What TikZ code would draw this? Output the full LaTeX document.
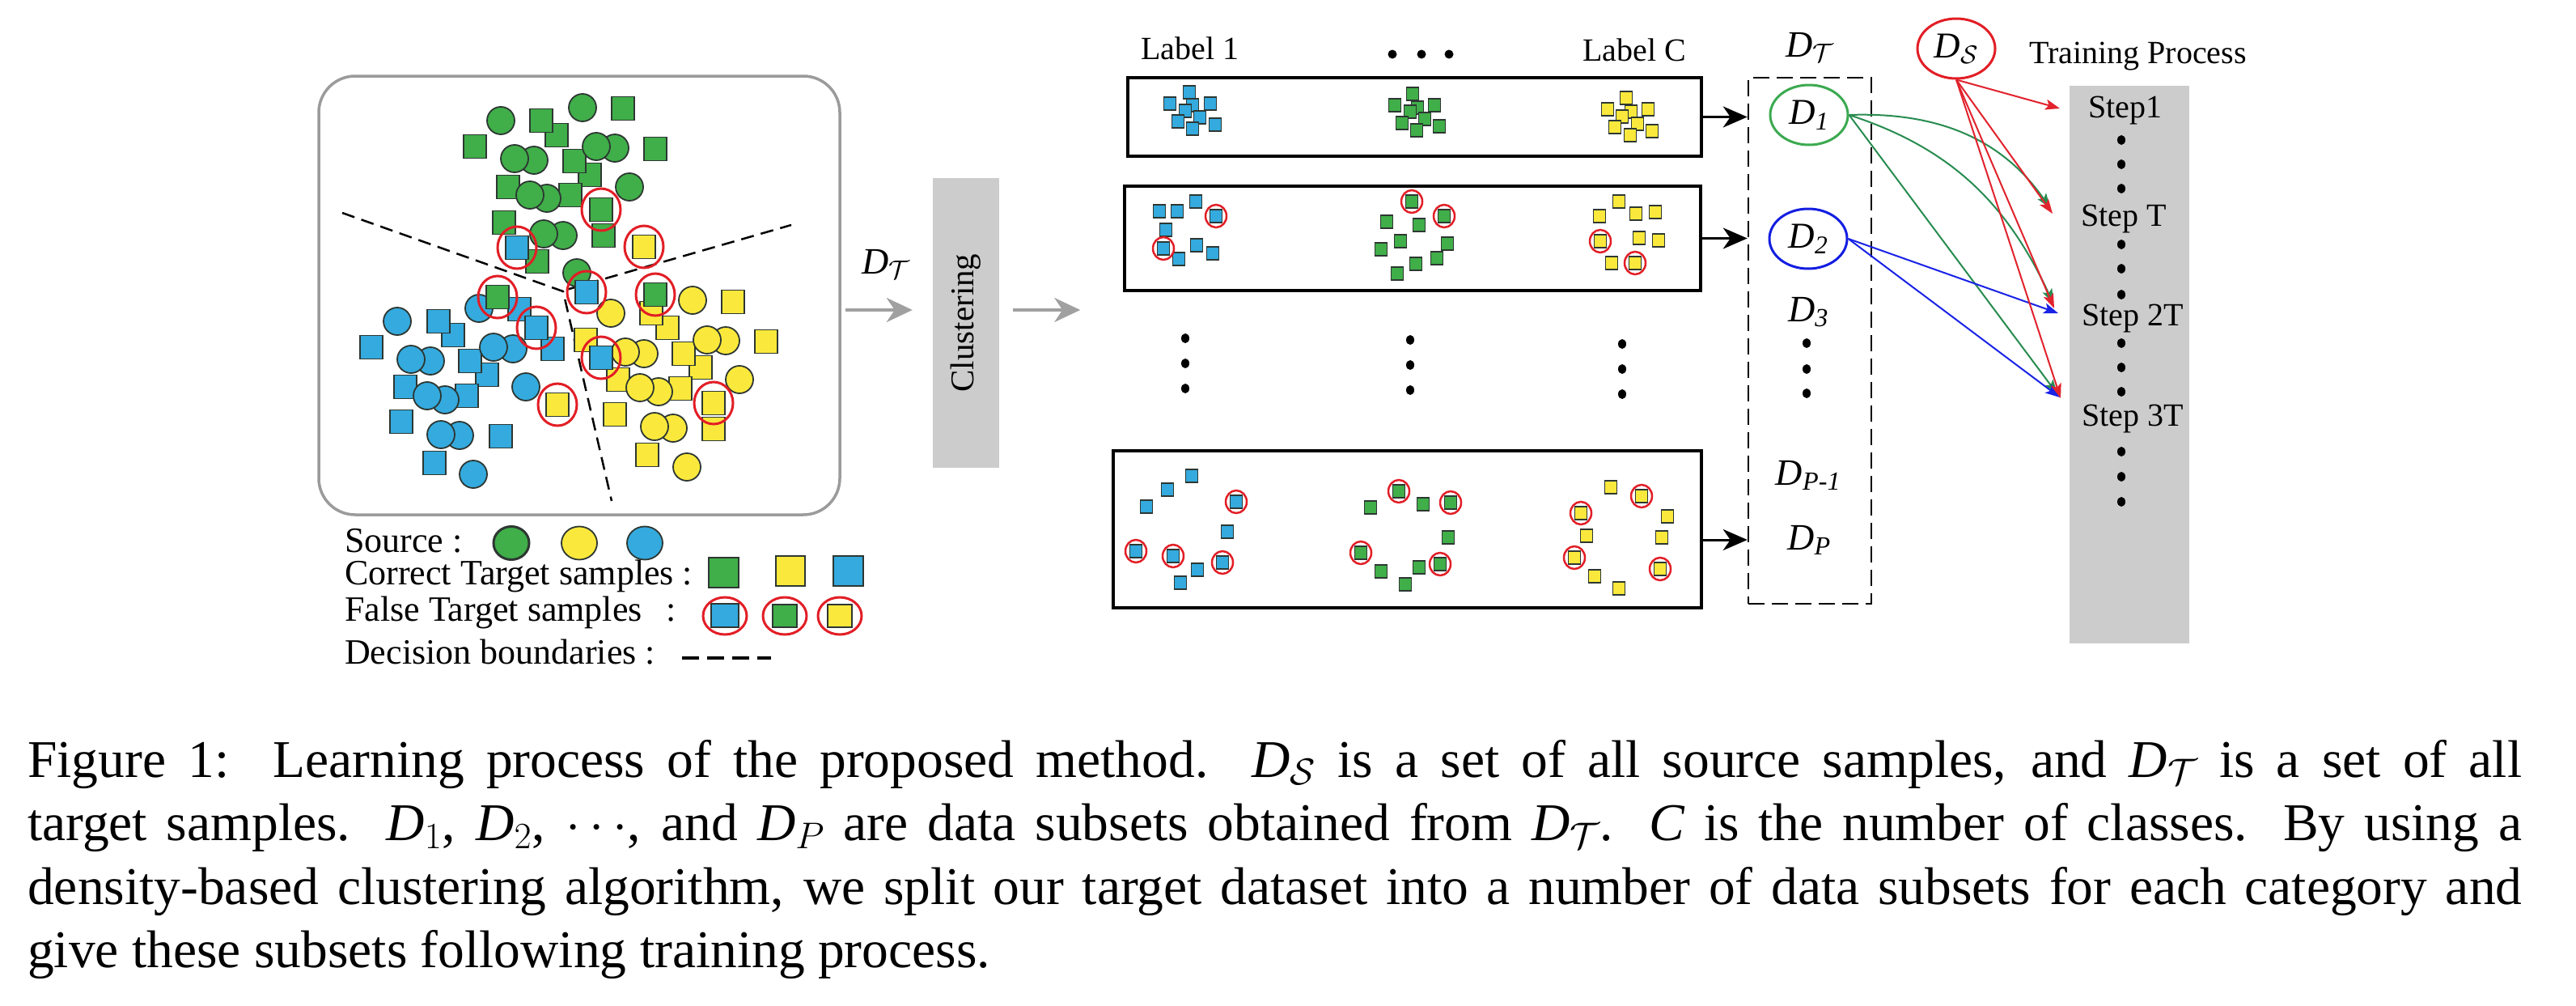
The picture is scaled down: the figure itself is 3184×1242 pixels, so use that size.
\RequirePackage{fix-cm}
\documentclass[tikz,border=0pt]{standalone}
\usepackage{fontspec}
\setmainfont{Liberation Serif}
\usetikzlibrary{arrows.meta,shapes.geometric,calc}
\definecolor{gfill}{RGB}{64,174,73}
\definecolor{yfill}{RGB}{250,233,60}
\definecolor{bfill}{RGB}{52,170,222}
\definecolor{edgec}{RGB}{45,55,50}
\definecolor{redc}{RGB}{226,30,38}
\definecolor{boxgray}{RGB}{204,204,204}
\definecolor{arrgray}{RGB}{160,160,160}
\definecolor{rimgray}{RGB}{155,155,155}
\definecolor{dgreen}{RGB}{60,170,80}
\definecolor{dblue}{RGB}{20,30,225}
\definecolor{lgreen}{RGB}{40,140,80}
\definecolor{lblue}{RGB}{25,35,230}
\definecolor{lred}{RGB}{225,35,45}
\tikzset{
  shapeedge/.style={draw=edgec,line width=1.8pt},
  smalledge/.style={draw=edgec,line width=1.3pt},
  redring/.style={draw=redc,line width=3pt},
  smallring/.style={draw=redc,line width=2.5pt},
  bdash/.style={line width=2.5pt,dash pattern=on 16pt off 9pt},
  lbl/.style={font=\fontsize{40}{48}\selectfont,inner sep=0pt},
  leg/.style={font=\fontsize{44}{52}\selectfont,inner sep=0pt,anchor=base west},
  dlab/.style={font=\fontsize{46}{54}\selectfont,inner sep=0pt},
  dnode/.style={ellipse,line width=3pt,minimum width=96pt,minimum height=74pt,inner sep=0pt,font=\fontsize{45}{54}\selectfont},
  tipc/.style={-{Stealth[length=18pt,width=13pt,inset=4pt]},line width=2pt},
  blackarr/.style={-{Stealth[length=30pt,width=26pt,inset=9pt]},line width=3pt},
  grayarr/.style={draw=arrgray,-{Stealth[length=32pt,width=30pt,inset=10pt]},line width=3.5pt},
  framebox/.style={draw,line width=3.5pt,inner sep=0pt},
}
\newcommand{\Bsq}[3]{\draw[shapeedge,fill=#1] (#2-14,#3-14.5) rectangle ++(28,29);}
\newcommand{\Bci}[3]{\draw[shapeedge,fill=#1] (#2,#3) ellipse [x radius=17pt,y radius=17pt];}
\newcommand{\Bfa}[3]{\Bsq{#1}{#2}{#3}\draw[redring] (#2,#3) ellipse [x radius=24pt,y radius=26pt];}
\newcommand{\Ssq}[3]{\draw[smalledge,fill=#1] (#2-7.5,#3-8) rectangle ++(15,16);}
\newcommand{\Sfa}[3]{\Ssq{#1}{#2}{#3}\draw[smallring] (#2,#3) ellipse [x radius=13pt,y radius=14pt];}
\newcommand{\bdot}[2]{\fill (#1,#2) ellipse [x radius=5pt,y radius=6pt];}
\newcommand{\Dsub}[1]{\textit{D}\textsubscript{\textit{#1}}}
\begin{document}
\begin{tikzpicture}[x=1pt,y=-1pt]
\fill[white] (0,0) rectangle (3184,1242);
\useasboundingbox (0,0) rectangle (3184,1242);

% ---------- left scatter box ----------
\node[draw=rimgray,line width=3.5pt,rounded corners=45pt,minimum width=644pt,minimum height=542pt,inner sep=0pt] (lb) at (716,365) {};
\draw[bdash] (423,263) -- (696,360) -- (756,619);
\draw[bdash] (700,358) -- (978,278);

\foreach \x/\y in {770/134,688/167,669/149,587/181,729/216,710/199,628/231,705/241,623/275,746/291,664/323,810/184} {\Bsq{gfill}{\x}{\y}}
\foreach \x/\y in {619/149,720/133,760/183,737/181,660/198,636/196,778/231,676/245,655/241,696/291,672/289,713/337} {\Bci{gfill}{\x}{\y}}

\foreach \x/\y in {560/414,542/397,459/429,642/382,683/431,602/463,581/446,501/478,577/489,496/521,619/539,537/572} {\Bsq{bfill}{\x}{\y}}
\foreach \x/\y in {491/397,592/381,532/446,508/444,634/431,610/429,568/538,545/537,550/494,528/489,650/478,585/586} {\Bci{bfill}{\x}{\y}}

\foreach \x/\y in {825/405,805/387,906/373,724/420,947/422,866/454,845/437,764/469,841/480,760/512,882/530,800/562} {\Bsq{yfill}{\x}{\y}}
\foreach \x/\y in {755/387,856/371,897/421,874/420,796/437,773/435,814/484,791/479,914/469,832/529,809/527,849/577} {\Bci{yfill}{\x}{\y}}

\foreach \x/\y in {639/306,725/361,663/405,743/442} {\Bfa{bfill}{\x}{\y}}
\foreach \x/\y in {743/259,615/367,810/364} {\Bfa{gfill}{\x}{\y}}
\foreach \x/\y in {796/305,689/500,882/498} {\Bfa{yfill}{\x}{\y}}

% ---------- legend ----------
\node[leg] (lsrc) at (426,682) {Source :};
\draw[draw=edgec,line width=3pt,fill=gfill] (632,671) ellipse [x radius=22pt,y radius=20.5pt];
\draw[shapeedge,fill=yfill] (716,671) ellipse [x radius=22pt,y radius=20.5pt];
\draw[shapeedge,fill=bfill] (797,671) ellipse [x radius=22pt,y radius=20.5pt];
\node[leg] (lcor) at (426,722) {Correct Target samples :};
\draw[shapeedge,fill=gfill] (876,689) rectangle (913,726);
\draw[shapeedge,fill=yfill] (959,687) rectangle (995,724);
\draw[shapeedge,fill=bfill] (1030,687) rectangle (1067,724);
\node[leg] (lfal) at (426,767) {False Target samples\hspace{30pt}:};
\draw[shapeedge,fill=bfill] (879,746) rectangle (913,775);
\draw[shapeedge,fill=gfill] (955,747) rectangle (985,775);
\draw[shapeedge,fill=yfill] (1023,747) rectangle (1053,775);
\foreach \x in {896,970,1038} {\draw[redring] (\x,761) ellipse [x radius=27pt,y radius=23pt];}
\node[leg] (ldec) at (426,820) {Decision boundaries :};
\draw[line width=3.5pt,dash pattern=on 21pt off 10pt] (843,813) -- (953,813);

% ---------- clustering ----------
\coordinate (ay) at (0,383);
\node[dlab,anchor=base west] (dtl) at (1065,338) {\textit{D}$_{\mathcal{T}}$};
\node[fill=boxgray,minimum width=82pt,minimum height=358pt,inner sep=0pt] (clus) at (1194,399) {};
\node[lbl,rotate=90,font=\fontsize{41}{48}\selectfont] (clust) at (clus.center) {Clustering};

% ---------- subset boxes ----------
\node[lbl,anchor=base] (lab1) at (1471,73) {Label 1};
\node[lbl,anchor=base] (labc) at (2020,75) {Label C};
\foreach \x in {1721,1757,1791} {\fill (\x,67) ellipse [x radius=5.5pt,y radius=5.5pt];}

\node[framebox,minimum width=709pt,minimum height=97pt] (b1) at (1748.5,144.5) {};
\node[framebox,minimum width=712pt,minimum height=129pt] (b2) at (1746,294.5) {};
\node[framebox,minimum width=727pt,minimum height=194pt] (b3) at (1739.5,654) {};

\draw[grayarr,shorten <=5pt,shorten >=25pt] (lb.east |- ay) -- (clus.west |- ay);
\draw[grayarr,shorten <=17pt,shorten >=53pt] (clus.east |- ay) -- (b2.west |- ay);

% box 1 clusters
\foreach \x/\y in {1470/114,1446/128,1496/128,1474/130,1465/137,1483/145,1456/150,1502/154,1474/159} {\Ssq{bfill}{\x}{\y}}
\foreach \x/\y in {1746/116,1724/130,1773/130,1752/133,1743/138,1761/147,1733/152,1779/156,1751/161} {\Ssq{gfill}{\x}{\y}}
\foreach \x/\y in {2010/121,1987/135,2037/135,2016/138,2005/144,2024/153,1996/157,2042/162,2015/167} {\Ssq{yfill}{\x}{\y}}
% box 2
\foreach \x/\y in {1478/249,1433/261,1455/261,1441/284,1479/303,1499/313,1457/320} {\Ssq{bfill}{\x}{\y}}
\foreach \x/\y in {1503/267,1438/307} {\Sfa{bfill}{\x}{\y}}
\foreach \x/\y in {1714/274,1754/278,1731/298,1789/301,1707/308,1776/319,1750/326,1727/338} {\Ssq{gfill}{\x}{\y}}
\foreach \x/\y in {1745/249,1785/267} {\Sfa{gfill}{\x}{\y}}
\foreach \x/\y in {2001/249,1977/267,2022/264,2046/262,2026/294,2050/297,1992/325} {\Ssq{yfill}{\x}{\y}}
\foreach \x/\y in {1978/298,2021/325} {\Sfa{yfill}{\x}{\y}}
% box 3
\foreach \x/\y in {1473/588,1443/605,1417/626,1517/657,1480/704,1459/720} {\Ssq{bfill}{\x}{\y}}
\foreach \x/\y in {1528/620,1404/681,1450/687,1511/695} {\Sfa{bfill}{\x}{\y}}
\foreach \x/\y in {1759/623,1694/627,1790/664,1707/706,1754/701,1737/722} {\Ssq{gfill}{\x}{\y}}
\foreach \x/\y in {1729/607,1793/621,1682/683,1780/697} {\Sfa{gfill}{\x}{\y}}
\foreach \x/\y in {1991/602,2061/638,1961/662,2054/664,1971/712,2001/727} {\Ssq{yfill}{\x}{\y}}
\foreach \x/\y in {2029/613,1954/634,1946/689,2052/703} {\Sfa{yfill}{\x}{\y}}
% vertical dots
\foreach \y in {418,449,480} {\bdot{1465}{\y}}
\foreach \y in {420,451,482} {\bdot{1743}{\y}}
\foreach \y in {425,456,487} {\bdot{2005}{\y}}

% ---------- D_T subsets ----------
\node[draw,line width=2.5pt,dash pattern=on 20pt off 9pt,minimum width=152pt,minimum height=650pt,inner sep=0pt] (dt) at (2237,421) {};
\node[dlab,anchor=base west] (dtl2) at (2207,70) {\textit{D}$_{\mathcal{T}}$};
\coordinate (a3) at (0,667);
\draw[blackarr] (b1.east) -- (dt.west |- b1.east);
\draw[blackarr] (b2.east) -- (dt.west |- b2.east);
\draw[blackarr] (b3.east |- a3) -- (dt.west |- a3);

\node[dnode,draw=dgreen] (D1) at (2236,142) {\Dsub{1}};
\node[dnode,draw=dblue] (D2) at (2235,295) {\Dsub{2}};
\node[dlab,anchor=base] (D3) at (2235,397) {\Dsub{3}};
\foreach \y in {424,456,486} {\bdot{2233}{\y}}
\node[dlab,anchor=base] (DP1) at (2235,599) {\Dsub{P-1}};
\node[dlab,anchor=base] (DP) at (2236,679) {\Dsub{P}};

% ---------- training process ----------
\node[dnode,draw=redc] (DS) at (2418,60) {\textit{D}$_{\mathcal{S}}$};
\node[lbl,anchor=base west] (tpl) at (2508,78) {Training Process};
\node[fill=boxgray,minimum width=148pt,minimum height=689pt,inner sep=0pt] (tp) at (2632,450.5) {};
\node[lbl,anchor=base] (s1) at (2627,145) {Step1};
\node[lbl,anchor=base] (sT) at (2625,279) {Step T};
\node[lbl,anchor=base] (s2T) at (2636,402) {Step 2T};
\node[lbl,anchor=base] (s3T) at (2636,526) {Step 3T};
\foreach \y in {173,203,233,302,332,364,424,454,484,558,589,620} {\bdot{2622}{\y}}

\coordinate (e1) at (2546,134);
\coordinate (eT) at (2537,264);
\coordinate (eTg) at (2534,257);
\coordinate (e2T) at (2539,381);
\coordinate (e2Tg) at (2538,375);
\coordinate (e2Tb) at (2544,387);
\coordinate (e3T) at (2547,492);
\coordinate (e3Tg) at (2543,487);
\coordinate (e3Tb) at (2546,491);

\draw[tipc,lgreen] (D1.east) to[out=2,in=125] (eTg);
\draw[tipc,lgreen] (D1.east) to[out=-18,in=115] (e2Tg);
\draw[tipc,lgreen] (D1.east) -- (e3Tg);
\draw[tipc,lblue] (D2.east) -- (e2Tb);
\draw[tipc,lblue] (D2.east) -- (e3Tb);
\draw[tipc,lred] (DS.south) -- (e1);
\draw[tipc,lred] (DS.south) -- (eT);
\draw[tipc,lred] (DS.south) -- (e2T);
\draw[tipc,lred] (DS.south) -- (e3T);

% ---------- caption ----------
\node[anchor=base west,inner sep=0pt,text width=3083pt,align=justify,font=\fontsize{65.5}{78.6}\selectfont] (cap) at (34,960) {\tolerance=10000 Figure 1:\ \ Learning process of the proposed method.\ \ \textit{D}$_{\mathcal{S}}$ is a set of all source samples, and \textit{D}$_{\mathcal{T}}$ is a set of all\linebreak target samples. \textit{D}$_1$, \textit{D}$_2$, $\cdots$, and \textit{D}$_P$ are data subsets obtained from \textit{D}$_{\mathcal{T}}$. \textit{C} is the number of classes. By using a\linebreak density-based clustering algorithm, we split our target dataset into a number of data subsets for each category and\linebreak give these subsets following training process.};
\end{tikzpicture}
\end{document}
